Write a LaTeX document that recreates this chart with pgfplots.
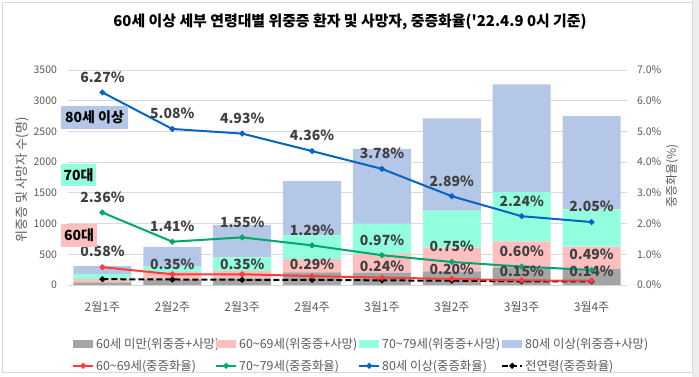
\documentclass[border=0pt]{standalone}
\usepackage{fontspec}
\setmainfont{Noto Sans CJK KR}
\usepackage{pgfplots}
\pgfplotsset{compat=1.18}
\usepackage{pgfplotstable}

\definecolor{cgray}{HTML}{A5A5A5}
\definecolor{cpink}{HTML}{FFBFBF}
\definecolor{ccyan}{HTML}{92FFDF}
\definecolor{cblue}{HTML}{B4C7E7}
\definecolor{c60}{HTML}{FF3B3B}
\definecolor{c60m}{HTML}{FF6F9A}
\definecolor{c70}{HTML}{00A870}
\definecolor{c80}{HTML}{0565C0}
\definecolor{labdark}{HTML}{404040}
\definecolor{tickgray}{HTML}{595959}
\definecolor{gridgray}{HTML}{D9D9D9}
\definecolor{framegray}{HTML}{D9D9D9}
\definecolor{outgray}{HTML}{EDEDED}

\pgfplotsset{
  barleg/.style={legend image code/.code={\fill[##1,draw=none] (0bp,-4bp) rectangle (20bp,4bp);}},
  lineleg/.style={legend image code/.code={\draw[mark repeat=2,mark phase=2,##1] plot coordinates {(0bp,0bp) (10bp,0bp) (20bp,0bp)};}},
}

\pgfplotstableread{
x g p c b
0 44 54 81 130
1 93 119 86 321
2 109 119 223 526
3 204 219 391 876
4 201 304 493 1216
5 223 385 602 1503
6 288 423 803 1753
7 266 358 608 1519
}\bars

\pgfplotstableread{
x r60 r70 r80 rall s60
0 0.58 2.36 6.27 0.19 9
1 0.35 1.41 5.08 0.18 4
2 0.35 1.55 4.93 0.17 4
3 0.29 1.29 4.36 0.17 5
4 0.24 0.97 3.78 0.15 5
5 0.20 0.75 2.89 0.14 3
6 0.15 0.60 2.24 0.12 3
7 0.14 0.49 2.05 0.12 3
}\rates

\begin{document}
\begin{tikzpicture}[font=\fontsize{11bp}{13bp}\selectfont]
\path[use as bounding box] (-67.5bp,-92bp) rectangle (631.5bp,285bp);
\fill[outgray] (624.5bp,-92bp) rectangle (631.5bp,285bp);
\draw[framegray, line width=1bp] (-65bp,-87.5bp) rectangle (624.5bp,282.5bp);
\node[font=\fontsize{14.9bp}{17bp}\selectfont\bfseries, text=black] at (282.5bp,263bp)
  {60세 이상 세부 연령대별 위중증 환자 및 사망자, 중증화율(\textquotesingle 22.4.9 0시 기준)};

\begin{axis}[
  scale only axis, width=559bp, height=215bp,
  xmin=-0.5, xmax=7.5, ymin=0, ymax=3500,
  ybar stacked, bar width=58bp,
  xtick={0,...,7},
  xticklabels={2월1주,2월2주,2월3주,2월4주,3월1주,3월2주,3월3주,3월4주},
  ytick={0,500,...,3500},
  ymajorgrids, grid style={draw=gridgray, line width=0.8bp},
  axis line style={draw=none}, tick style={draw=none},
  /pgf/number format/assume math mode=true,
  /pgf/number format/1000 sep={},
  ticklabel style={text=tickgray},
  xticklabel style={font=\fontsize{12bp}{14bp}\selectfont, yshift=-13bp},
  yticklabel style={font=\fontsize{10.5bp}{12bp}\selectfont, xshift=-7bp},
  ylabel={위중증 및 사망자 수(명)},
  ylabel style={at={(axis description cs:-0.0814,0.488)}, anchor=center, font=\fontsize{13bp}{15bp}\selectfont, text=tickgray},
]
\addplot[fill=cgray, draw=none] table[x=x,y=g]{\bars};
\addplot[fill=cpink, draw=none] table[x=x,y=p]{\bars};
\addplot[fill=ccyan, draw=none] table[x=x,y=c]{\bars};
\addplot[fill=cblue, draw=none] table[x=x,y=b]{\bars};
\end{axis}

\begin{axis}[
  scale only axis, width=559bp, height=215bp,
  xmin=-0.5, xmax=7.5, ymin=0, ymax=7,
  hide x axis,
  axis y line*=right,
  axis line style={draw=none}, tick style={draw=none},
  ytick={0,1,...,7},
  /pgf/number format/assume math mode=true,
  yticklabel={\pgfmathprintnumber[fixed,fixed zerofill,precision=1]{\tick}\%},
  yticklabel style={font=\fontsize{10.5bp}{12bp}\selectfont, xshift=7bp, text=tickgray},
  ylabel={중증화율(\%)},
  ylabel style={at={(axis description cs:1.0814,0.507)}, anchor=center, rotate=0, font=\fontsize{12bp}{14bp}\selectfont, text=tickgray},
  legend columns=4,
  legend cell align=left,
  legend style={at={(axis description cs:0,0)}, anchor=north west, xshift=4.5bp, yshift=-53bp,
    draw=none, fill=none, inner sep=0pt, column sep=2bp, row sep=10bp,
    font=\fontsize{12.4bp}{14bp}\selectfont, text=tickgray, nodes={inner sep=0pt}},
  lab/.style={nodes near coords={\pgfmathprintnumber[fixed,fixed zerofill,precision=2]{\pgfplotspointmeta}\%},
    nodes near coords style={font=\fontsize{14bp}{16bp}\selectfont\bfseries, text=labdark, anchor=south, inner sep=0pt}},
]
\addlegendimage{barleg, fill=cgray}
\addlegendentry{\makebox[117bp][l]{60세 미만(위중증+사망)}}
\addlegendimage{barleg, fill=cpink}
\addlegendentry{\makebox[117bp][l]{60\textasciitilde 69세(위중증+사망)}}
\addlegendimage{barleg, fill=ccyan}
\addlegendentry{\makebox[117bp][l]{70\textasciitilde 79세(위중증+사망)}}
\addlegendimage{barleg, fill=cblue}
\addlegendentry{\makebox[117bp][l]{80세 이상(위중증+사망)}}
\addlegendimage{lineleg, c60, line width=2bp, mark=*, mark size=1.8bp, mark options={fill=c60m, draw=c60, solid}}
\addlegendentry{\makebox[117bp][l]{60\textasciitilde 69세(중증화율)}}
\addlegendimage{lineleg, c70, line width=2bp, mark=*, mark size=1.8bp, mark options={fill=c70, draw=c70, solid}}
\addlegendentry{\makebox[117bp][l]{70\textasciitilde 79세(중증화율)}}
\addlegendimage{lineleg, c80, line width=2bp, mark=*, mark size=1.8bp, mark options={fill=c80, draw=c80, solid}}
\addlegendentry{\makebox[117bp][l]{80세 이상(중증화율)}}
\addlegendimage{lineleg, black, line width=2bp, dash pattern=on 6bp off 3bp, mark=*, mark size=1.8bp, mark options={fill=black, draw=black, solid}}
\addlegendentry{\makebox[117bp][l]{전연령(중증화율)}}

\addplot[forget plot, black, line width=2bp, dash pattern=on 6bp off 3bp, mark=*, mark size=1.8bp, mark options={fill=black, solid}]
  table[x=x,y=rall]{\rates};
\addplot[forget plot, c60, line width=2bp, mark=*, mark size=1.8bp, mark options={fill=c60m, draw=c60},
  lab, point meta=explicit, visualization depends on={\thisrow{s60} \as \labshift},
  every node near coord/.append style={yshift=\labshift bp}]
  table[x=x,y=r60,meta=r60]{\rates};
\addplot[forget plot, c70, line width=2bp, mark=*, mark size=1.8bp, mark options={fill=c70},
  lab, point meta=explicit, every node near coord/.append style={yshift=9bp}]
  table[x=x,y=r70,meta=r70]{\rates};
\addplot[forget plot, c80, line width=2bp, mark=*, mark size=1.8bp, mark options={fill=c80},
  lab, point meta=explicit, every node near coord/.append style={yshift=9bp}]
  table[x=x,y=r80,meta=r80]{\rates};
\end{axis}

\node[fill=cblue, font=\fontsize{14bp}{16bp}\selectfont\bfseries, minimum width=67bp, minimum height=23bp, inner sep=0pt] at (27bp,167.5bp) {80세 이상};
\node[fill=ccyan, font=\fontsize{14bp}{16bp}\selectfont\bfseries, minimum width=35bp, minimum height=22bp, inner sep=0pt] at (11bp,109.5bp) {70대};
\node[fill=cpink, font=\fontsize{14bp}{16bp}\selectfont\bfseries, minimum width=36bp, minimum height=23bp, inner sep=0pt] at (11.5bp,49.5bp) {60대};
\end{tikzpicture}
\end{document}
